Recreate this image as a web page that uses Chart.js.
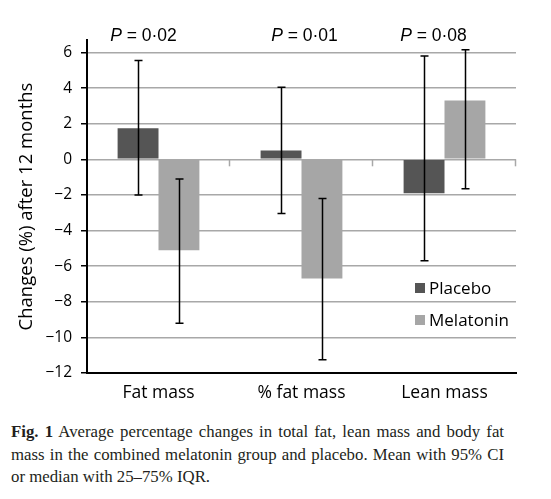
<!DOCTYPE html>
<html>
<head>
<meta charset="utf-8">
<script src="https://cdn.jsdelivr.net/npm/chart.js@4/dist/chart.umd.min.js"></script>
<style>
  html, body { margin: 0; padding: 0; background: #fff; }
  #wrap { position: relative; width: 551px; height: 499px; }
  #c { position: absolute; left: 0; top: 0; }
  #cap { position: absolute; left: 11px; top: 421px; width: 493px;
         font-family: "Liberation Serif", "DejaVu Serif", serif; font-size: 16.8px;
         line-height: 22.5px; color: #231f20; white-space: nowrap; }
  #cap .j { text-align: justify; text-align-last: justify; white-space: normal; }
</style>
</head>
<body>
<div id="wrap">
  <canvas id="c" width="551" height="410"></canvas>
  <div id="cap">
    <div class="j"><b>Fig. 1</b> Average percentage changes in total fat, lean mass and body fat</div>
    <div class="j">mass in the combined melatonin group and placebo. Mean with 95% CI</div>
    <div>or median with 25–75% IQR.</div>
  </div>
</div>
<script>
const categories = ['Fat mass', '% fat mass', 'Lean mass'];
const placebo = [1.75, 0.5, -1.9];
const placeboLow = [-2.0, -3.05, -5.7];
const placeboHigh = [5.55, 4.05, 5.8];
const melatonin = [-5.1, -6.7, 3.3];
const melatoninLow = [-9.2, -11.25, -1.65];
const melatoninHigh = [-1.1, -2.2, 6.15];
const pValues = ['0·02', '0·01', '0·08'];
const yTicks = [-12, -10, -8, -6, -4, -2, 0, 2, 4, 6];
const seriesNames = ['Placebo', 'Melatonin'];
const seriesColors = ['#555555', '#a6a6a6'];

const errLows = [placeboLow, melatoninLow];
const errHighs = [placeboHigh, melatoninHigh];

const errorBars = {
  id: 'errorBars',
  afterDatasetsDraw(chart) {
    const ctx = chart.ctx, y = chart.scales.y;
    ctx.save();
    ctx.strokeStyle = '#000';
    ctx.lineWidth = 1.5;
    chart.data.datasets.forEach((ds, di) => {
      const meta = chart.getDatasetMeta(di);
      meta.data.forEach((bar, i) => {
        const x = Math.round(bar.x) + 0.5;
        const yl = y.getPixelForValue(errLows[di][i]);
        const yh = y.getPixelForValue(errHighs[di][i]);
        ctx.beginPath();
        ctx.moveTo(x, yl); ctx.lineTo(x, yh);
        ctx.moveTo(x - 4, yl); ctx.lineTo(x + 4, yl);
        ctx.moveTo(x - 4, yh); ctx.lineTo(x + 4, yh);
        ctx.stroke();
      });
    });
    ctx.restore();
  }
};

const extras = {
  id: 'extras',
  beforeDatasetsDraw(chart) {
    const ctx = chart.ctx, y = chart.scales.y;
    const area = chart.chartArea;
    const y0 = y.getPixelForValue(0);
    const w = (area.right - area.left) / categories.length;
    ctx.save();
    ctx.strokeStyle = '#a8a8a8';
    ctx.lineWidth = 1.5;
    for (let i = 1; i <= categories.length; i++) {
      const xx = Math.round(area.left + i * w) - 0.5;
      ctx.beginPath(); ctx.moveTo(xx, y0); ctx.lineTo(xx, y0 + 7); ctx.stroke();
    }
    ctx.restore();
  },
  afterDraw(chart) {
    const ctx = chart.ctx, x = chart.scales.x;
    const offsets = [-15, 3, -11];
    ctx.save();
    ctx.fillStyle = '#000';
    ctx.textBaseline = 'middle';
    pValues.forEach((p, i) => {
      const cx = x.getPixelForValue(i) + offsets[i];
      const italic = 'italic 17.5px "Liberation Sans", Arial, sans-serif';
      const normal = '17.5px "Liberation Sans", Arial, sans-serif';
      ctx.font = italic; const wP = ctx.measureText('P').width;
      ctx.font = normal; const rest = ' = ' + p; const wR = ctx.measureText(rest).width;
      const sx = cx - (wP + wR) / 2;
      ctx.textAlign = 'left';
      ctx.font = italic; ctx.fillText('P', sx, 36);
      ctx.font = normal; ctx.fillText(rest, sx + wP, 36);
    });
    // legend
    const ly = [288, 320];
    ctx.font = '17px "Open Sans", sans-serif';
    seriesNames.forEach((n, i) => {
      ctx.fillStyle = seriesColors[i];
      ctx.fillRect(415, ly[i] - 5, 10, 10);
      ctx.fillStyle = '#000';
      ctx.textAlign = 'left';
      ctx.fillText(n, 429, ly[i] + 1);
    });
    ctx.restore();
  }
};

new Chart(document.getElementById('c'), {
  type: 'bar',
  data: {
    labels: categories,
    datasets: [
      { label: seriesNames[0], data: placebo, backgroundColor: seriesColors[0] },
      { label: seriesNames[1], data: melatonin, backgroundColor: seriesColors[1] }
    ]
  },
  options: {
    responsive: false,
    animation: false,
    events: [],
    layout: { padding: { left: 0, right: 35, top: 40, bottom: 0 } },
    datasets: { bar: { categoryPercentage: 0.572, barPercentage: 1.0 } },
    plugins: { legend: { display: false }, tooltip: { enabled: false } },
    scales: {
      x: {
        grid: { display: false, drawTicks: false },
        border: { display: true, color: '#000', width: 2 },
        ticks: { color: '#000', font: { family: 'Open Sans', size: 17.5 }, padding: 10 },
        afterFit(s) { s.height = 37; }
      },
      y: {
        min: -12, max: 6.7,
        afterBuildTicks(s) { s.ticks = yTicks.map(v => ({ value: v })); },
        grid: { color: '#a8a8a8', lineWidth: 1.5, tickColor: '#000', tickLength: 6, drawTicks: true },
        border: { display: true, color: '#000', width: 2 },
        ticks: {
          color: '#000', font: { family: 'Open Sans', size: 15.5 }, padding: 9,
          callback: v => String(v).replace('-', '\u2212')
        },
        title: { display: true, text: 'Changes (%) after 12 months', color: '#000',
                 font: { family: 'Open Sans', size: 18.5 }, padding: { top: 16, bottom: 0 } },
        afterFit(s) { s.width = 87; }
      }
    }
  },
  plugins: [extras, errorBars]
});
</script>
</body>
</html>
